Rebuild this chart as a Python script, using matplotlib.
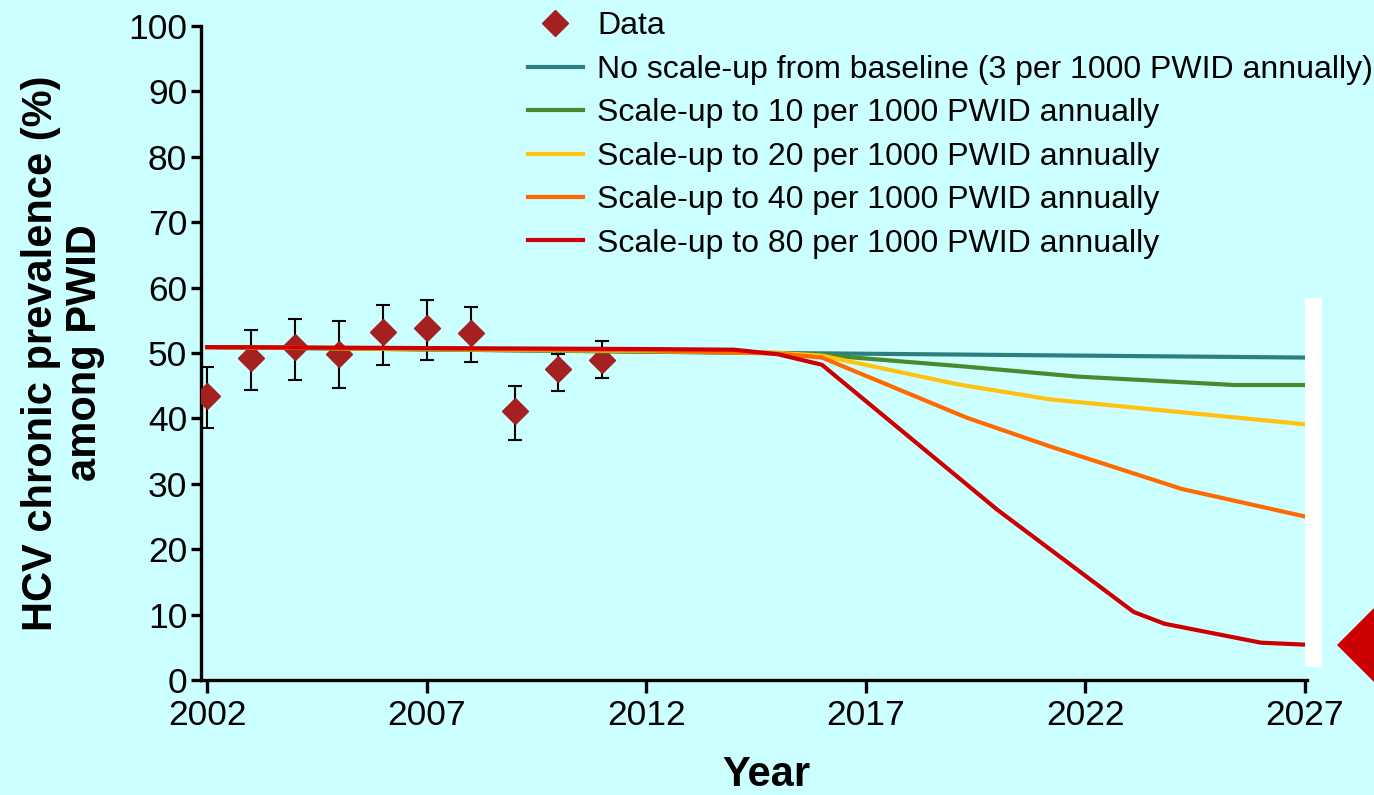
import numpy as np
import matplotlib
matplotlib.use("Agg")
import matplotlib.pyplot as plt
from matplotlib.patches import Rectangle, Polygon

plt.rcParams['font.family'] = ['Liberation Sans', 'DejaVu Sans']

# observed data with error bars
data_years = [2002, 2003, 2004, 2005, 2006, 2007, 2008, 2009, 2010, 2011]
data_val = [43.4, 49.2, 50.9, 49.9, 53.2, 53.8, 53.1, 41.2, 47.6, 48.9]
data_hi = [47.8, 53.5, 55.2, 54.9, 57.3, 58.1, 57.0, 45.0, 49.8, 51.8]
data_lo = [38.6, 44.3, 45.9, 44.7, 48.1, 48.9, 48.6, 36.7, 44.2, 46.1]

# model scenarios
teal_x = [2002, 2012, 2015, 2027]
teal_y = [50.9, 50.2, 50.0, 49.3]
green_x = [2002, 2012, 2015, 2016, 2019.3, 2021.8, 2025.4, 2027]
green_y = [50.9, 50.2, 50.0, 49.7, 47.9, 46.4, 45.1, 45.1]
yellow_x = [2002, 2012, 2015, 2016, 2019.1, 2021.2, 2027]
yellow_y = [50.9, 50.3, 50.0, 49.6, 45.2, 42.9, 39.1]
orange_x = [2002, 2012, 2015, 2016, 2019.3, 2021.2, 2024.2, 2027]
orange_y = [50.9, 50.4, 49.9, 49.3, 40.1, 35.7, 29.2, 25.0]
red_x = [2002, 2012, 2014, 2015, 2016, 2020, 2023.1, 2023.8, 2026, 2027]
red_y = [50.9, 50.6, 50.5, 49.8, 48.2, 26.0, 10.4, 8.6, 5.7, 5.4]

labels = ['No scale-up from baseline (3 per 1000 PWID annually)',
          'Scale-up to 10 per 1000 PWID annually',
          'Scale-up to 20 per 1000 PWID annually',
          'Scale-up to 40 per 1000 PWID annually',
          'Scale-up to 80 per 1000 PWID annually']
colors = ['#2E8080', '#4A8A2E', '#FFC20E', '#FF6A00', '#CC0000']

bg = '#CCFFFF'
fig = plt.figure(figsize=(13.74, 7.95), dpi=100, facecolor=bg)
ax = fig.add_axes([0.1463, 0.1447, 0.805, 0.8226])
ax.set_facecolor(bg)

yerr = [np.array(data_val) - np.array(data_lo), np.array(data_hi) - np.array(data_val)]
ax.errorbar(data_years, data_val, yerr=yerr, fmt='none', ecolor='black',
            elinewidth=1.5, capsize=5, capthick=1.5, zorder=2)
ax.plot(data_years, data_val, 'D', color='#A52020', markersize=13.5,
        linestyle='none', label='Data', zorder=3)

series = [(teal_x, teal_y), (green_x, green_y), (yellow_x, yellow_y),
          (orange_x, orange_y), (red_x, red_y)]
for (xs, ys), c, lab in zip(series, colors, labels):
    ax.plot(xs, ys, color=c, lw=3, label=lab, zorder=4)

ax.set_xlim(2001.86, 2027.05)
ax.set_ylim(0, 100)
ax.set_xticks([2002, 2007, 2012, 2017, 2022, 2027])
ax.set_yticks(range(0, 101, 10))
for s in ['top', 'right']:
    ax.spines[s].set_visible(False)
for s in ['left', 'bottom']:
    ax.spines[s].set_linewidth(2.4)
ax.tick_params(axis='both', labelsize=25.5, width=2.4)
ax.tick_params(axis='y', length=7, pad=3)
ax.tick_params(axis='x', length=9, pad=5)

ax.set_ylabel('HCV chronic prevalence (%)\namong PWID', fontsize=30,
              fontweight='bold', labelpad=17, linespacing=1.1)
ax.set_xlabel('Year', fontsize=30, fontweight='bold')
ax.xaxis.set_label_coords(0.511, -0.115)

ax.legend(loc='upper left', bbox_to_anchor=(528 / 1374, 1 - 11.5 / 795),
          bbox_transform=fig.transFigure, frameon=False, fontsize=23,
          handlelength=1.72, handletextpad=0.44, labelspacing=0.42,
          borderpad=0, borderaxespad=0, numpoints=1)

# slide overlay: white strip and red pointer on the right edge
fig.patches.append(Rectangle((1305 / 1374, 1 - 667 / 795), 17 / 1374, 369 / 795,
                             transform=fig.transFigure, facecolor='white',
                             edgecolor='none', zorder=10))
fig.patches.append(Polygon([(1337 / 1374, 1 - 645 / 795), (1, 1 - 608 / 795),
                            (1, 1 - 682 / 795)], closed=True,
                           transform=fig.transFigure, facecolor='#CC0000',
                           edgecolor='none', zorder=10))

fig.savefig('out.png', dpi=100, facecolor=bg)
